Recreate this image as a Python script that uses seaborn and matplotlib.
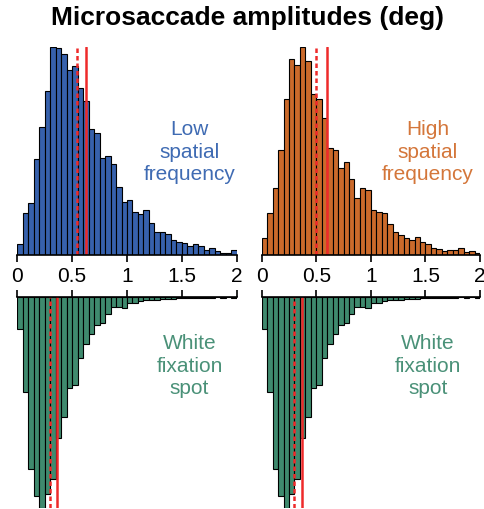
import numpy as np
import pandas as pd
import matplotlib
matplotlib.use("Agg")
import matplotlib.pyplot as plt
import seaborn as sns

sns.set_style("white")
plt.rcParams["font.family"] = ["Liberation Sans", "DejaVu Sans"]
plt.rcParams["text.color"] = "black"
plt.rcParams["xtick.color"] = "black"

# histogram bins (deg), 0.05 wide
bin_edges = [round(0.05 * i, 2) for i in range(41)]
bin_centers = [round(0.05 * i + 0.025, 3) for i in range(40)]

# counts per bin
low_sf = [11, 42, 52, 96, 127, 163, 207, 206, 200, 184, 188, 166, 153, 125, 121, 97, 99, 91, 68, 53,
          55, 43, 41, 45, 32, 23, 23, 21, 15, 13, 12, 9, 11, 9, 5, 7, 4, 2, 2, 5]
high_sf = [17, 42, 68, 106, 158, 198, 192, 210, 196, 163, 158, 138, 108, 106, 88, 94, 77, 58, 68, 66,
           45, 43, 42, 31, 23, 20, 17, 15, 18, 13, 11, 7, 6, 4, 5, 5, 7, 3, 4, 2]
white_spot = [32, 95, 172, 199, 211, 197, 182, 141, 120, 91, 88, 61, 47, 37, 28, 26, 17, 10, 10, 11,
              6, 6, 4, 3, 3, 3, 2, 2, 2, 1, 1, 1, 1, 1, 1, 1, 0, 1, 0, 1]

# median (dashed) and mean (solid) lines
low_sf_median, low_sf_mean = 0.54, 0.63
high_sf_median, high_sf_mean = 0.495, 0.596
white_median, white_mean = 0.30, 0.365

tick_vals = [0, 0.5, 1, 1.5, 2]
tick_labels = ["0", "0.5", "1", "1.5", "2"]

blue, orange, green = "#3761AC", "#CB6A2B", "#3F8A6E"
blue_txt, orange_txt, green_txt = "#3F6BB3", "#D4763A", "#4A9178"
red = "#EE2A2A"

W, H = 485, 510
fig = plt.figure(figsize=(W / 100, H / 100), dpi=100)


def px_axes(x0, x1, ytop, ybot):
    return fig.add_axes([x0 / W, 1 - ybot / H, (x1 - x0) / W, (ybot - ytop) / H])


def draw_panel(ax, counts, color, med, mean, flip):
    df = pd.DataFrame({"amp": bin_centers, "n": counts})
    sns.histplot(data=df, x="amp", weights="n", bins=bin_edges, color=color,
                 edgecolor="black", linewidth=0.8, alpha=1, ax=ax)
    ax.set_xlim(0, 2)
    ax.set_ylim(0, max(counts))
    ax.axvline(med, color=red, lw=1.8, ls=(0, (1.8, 1.2)))
    ax.axvline(mean, color=red, lw=1.8)
    ax.set_xlabel("")
    ax.set_ylabel("")
    ax.set_yticks([])
    ax.set_xticks(tick_vals)
    for s in ["left", "right", "top", "bottom"]:
        ax.spines[s].set_visible(False)
    if flip:
        ax.invert_yaxis()
        ax.xaxis.tick_top()
        ax.spines["top"].set_visible(True)
        ax.spines["top"].set_linewidth(1.2)
        ax.spines["top"].set_color("black")
        ax.tick_params(axis="x", direction="out", length=5, width=1.2, labeltop=False, top=True)
    else:
        ax.spines["bottom"].set_visible(True)
        ax.spines["bottom"].set_linewidth(1.2)
        ax.spines["bottom"].set_color("black")
        ax.set_xticklabels(tick_labels)
        ax.tick_params(axis="x", direction="out", length=5, width=1.2, labelsize=15, pad=3,
                       bottom=True)


ax1 = px_axes(17.3, 236.7, 48, 256)
ax2 = px_axes(261.7, 480, 48, 256)
ax3 = px_axes(17.3, 236.7, 297.7, 509)
ax4 = px_axes(261.7, 480, 297.7, 509)

draw_panel(ax1, low_sf, blue, low_sf_median, low_sf_mean, False)
draw_panel(ax2, high_sf, orange, high_sf_median, high_sf_mean, False)
draw_panel(ax3, white_spot, green, white_median, white_mean, True)
draw_panel(ax4, white_spot, green, white_median, white_mean, True)

fig.text(247.5 / W, 1 - 18 / H, "Microsaccade amplitudes (deg)", ha="center", va="center",
         fontsize=19, fontweight="bold")
fig.text(189.5 / W, 1 - 152 / H, "Low\nspatial\nfrequency", ha="center", va="center",
         fontsize=15, color=blue_txt, linespacing=1.25)
fig.text(428 / W, 1 - 152 / H, "High\nspatial\nfrequency", ha="center", va="center",
         fontsize=15, color=orange_txt, linespacing=1.25)
fig.text(189.5 / W, 1 - 366 / H, "White\nfixation\nspot", ha="center", va="center",
         fontsize=15, color=green_txt, linespacing=1.25)
fig.text(428 / W, 1 - 366 / H, "White\nfixation\nspot", ha="center", va="center",
         fontsize=15, color=green_txt, linespacing=1.25)

fig.savefig("out.png", dpi=100)
